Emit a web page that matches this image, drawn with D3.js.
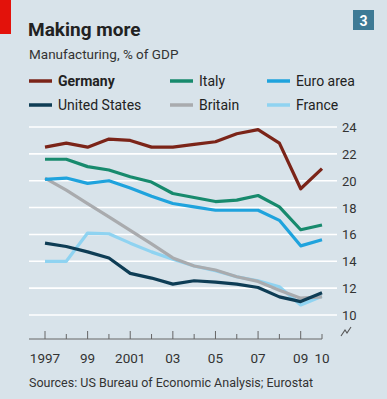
<!DOCTYPE html>
<html lang="en">
<head>
<meta charset="UTF-8" />
<title>Making more</title>
<script src="https://cdnjs.cloudflare.com/ajax/libs/d3/7.6.1/d3.min.js"></script>
<style>
  body { margin: 0; background: #d8e3ea; }
  svg { display: block; font-family: Roboto, "Open Sans", sans-serif; }
</style>
</head>
<body>
<div id="chart"></div>
<script>
// data
const years = [1997, 1998, 1999, 2000, 2001, 2002, 2003, 2004, 2005, 2006, 2007, 2008, 2009, 2010];
const germany = [22.5, 22.8, 22.5, 23.1, 23.0, 22.5, 22.5, 22.7, 22.9, 23.5, 23.8, 22.8, 19.4, 20.9];
const italy = [21.6, 21.6, 21.05, 20.8, 20.3, 19.9, 19.05, 18.75, 18.45, 18.55, 18.9, 18.05, 16.35, 16.7];
const euroArea = [20.1, 20.2, 19.8, 20.0, 19.45, 18.85, 18.3, 18.05, 17.8, 17.8, 17.8, 17.05, 15.15, 15.6];
const unitedStates = [15.35, 15.1, 14.7, 14.25, 13.1, 12.75, 12.3, 12.55, 12.45, 12.3, 12.05, 11.35, 11.0, 11.65];
const britain = [20.2, 19.3, 18.3, 17.3, 16.3, 15.3, 14.25, 13.65, 13.35, 12.85, 12.5, 11.85, 11.25, 11.35];
const france = [14.0, 14.0, 16.1, 16.05, 15.35, 14.7, 14.15, 13.65, 13.3, 12.85, 12.55, 12.1, 10.75, 11.4];

const yTicks = [10, 12, 14, 16, 18, 20, 22, 24];
const xLabels = { 1997: "1997", 1999: "99", 2001: "2001", 2003: "03", 2005: "05", 2007: "07", 2009: "09", 2010: "10" };

const series = [
  { name: "France", values: france, color: "#8fd3f1" },
  { name: "Britain", values: britain, color: "#a9abae" },
  { name: "United States", values: unitedStates, color: "#0e3d55" },
  { name: "Euro area", values: euroArea, color: "#1fa3dd" },
  { name: "Italy", values: italy, color: "#178a6d" },
  { name: "Germany", values: germany, color: "#7b2418" }
];

const legendOrder = ["Germany", "Italy", "Euro area", "United States", "Britain", "France"];

const width = 387, height = 399;
const svg = d3.select("#chart").append("svg")
  .attr("width", width).attr("height", height);

svg.append("rect").attr("width", width).attr("height", height).attr("fill", "#d8e3ea");
svg.append("rect").attr("x", 0).attr("y", 0).attr("width", 11).attr("height", 34).attr("fill", "#e3120b");

// number box
svg.append("rect").attr("x", 353).attr("y", 10).attr("width", 21).attr("height", 20).attr("fill", "#3e7a95");
svg.append("text").attr("x", 363.5).attr("y", 25.5).attr("text-anchor", "middle")
  .attr("fill", "#fff").attr("font-size", 14).attr("font-weight", "bold").text("3");

// titles
svg.append("text").attr("x", 28).attr("y", 36).attr("font-size", 19).attr("font-weight", "bold")
  .attr("fill", "#222").text("Making more");
svg.append("text").attr("x", 29).attr("y", 59).attr("font-size", 13.5)
  .attr("fill", "#333").text("Manufacturing, % of GDP");

// legend
const legendPos = [[29, 81], [170, 81], [267, 81], [29, 105], [170, 105], [267, 105]];
legendOrder.forEach((name, i) => {
  const s = series.find(d => d.name === name);
  const [lx, ly] = legendPos[i];
  const g = svg.append("g").attr("transform", `translate(${lx},${ly})`);
  g.append("line").attr("x1", 0).attr("x2", 23).attr("stroke", s.color).attr("stroke-width", 3.5);
  g.append("text").attr("x", 29).attr("y", 5).attr("font-size", 14)
    .attr("font-weight", name === "Germany" ? "bold" : "normal")
    .attr("fill", "#222").text(name);
});

const x = d3.scaleLinear().domain([1997, 2010]).range([45, 322]);
const y = d3.scaleLinear().domain([10, 24]).range([315, 127]);

// gridlines and y labels
svg.append("g").selectAll("line").data(yTicks).join("line")
  .attr("x1", 29).attr("x2", 337)
  .attr("y1", d => y(d)).attr("y2", d => y(d))
  .attr("stroke", "#fff").attr("stroke-width", 1.6);

svg.append("g").selectAll("text").data(yTicks).join("text")
  .attr("x", 342).attr("y", d => y(d)).attr("dy", "0.38em")
  .attr("font-size", 13).attr("fill", "#333").text(d => d);

// axis break mark
svg.append("path")
  .attr("d", "M341,336 L345,330 L347,333 L351,327")
  .attr("fill", "none").attr("stroke", "#555").attr("stroke-width", 1.1);

// x axis
const axisY = 339;
const xAxis = d3.axisBottom(x).tickValues(years).tickSize(0).tickFormat("");
const ax = svg.append("g").attr("transform", `translate(0,${axisY})`).call(xAxis);
ax.select(".domain").remove();
svg.append("line").attr("x1", 29).attr("x2", 322).attr("y1", axisY).attr("y2", axisY)
  .attr("stroke", "#666").attr("stroke-width", 1);
svg.append("g").selectAll("line").data(years).join("line")
  .attr("x1", d => x(d)).attr("x2", d => x(d))
  .attr("y1", axisY).attr("y2", d => (d % 2 === 1 ? axisY - 8 : axisY - 5))
  .attr("stroke", "#666").attr("stroke-width", 1);
svg.append("g").selectAll("text").data(Object.keys(xLabels).map(Number)).join("text")
  .attr("x", d => x(d)).attr("y", 363).attr("text-anchor", "middle")
  .attr("font-size", 13.5).attr("fill", "#333").text(d => xLabels[d]);

// lines
const line = d3.line().x((d, i) => x(years[i])).y(d => y(d)).curve(d3.curveLinear);
svg.append("g").selectAll("path").data(series).join("path")
  .attr("d", d => line(d.values))
  .attr("fill", "none").attr("stroke", d => d.color)
  .attr("stroke-width", 3.2).attr("stroke-linejoin", "round");

// source
svg.append("text").attr("x", 29).attr("y", 387).attr("font-size", 12.5)
  .attr("fill", "#333").text("Sources: US Bureau of Economic Analysis; Eurostat");
</script>
</body>
</html>
